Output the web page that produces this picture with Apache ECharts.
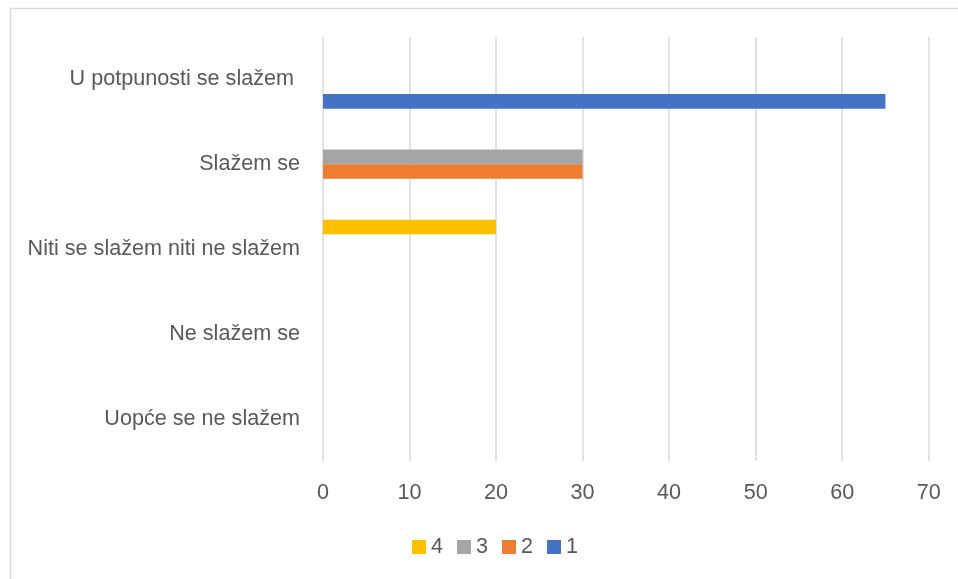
<!DOCTYPE html>
<html>
<head>
<meta charset="utf-8">
<script src="https://cdn.jsdelivr.net/npm/echarts@6/dist/echarts.min.js"></script>
<style>html,body{margin:0;padding:0;background:#fff;}#c{width:958px;height:579px;}</style>
</head>
<body>
<div id="c"></div>
<script>
const categories = ['Uopće se ne slažem', 'Ne slažem se', 'Niti se slažem niti ne slažem', 'Slažem se', 'U potpunosti se slažem '];
const seriesNames = ['4', '3', '2', '1'];
const values4 = [0, 0, 20, 0, 0];
const values3 = [0, 0, 0, 30, 0];
const values2 = [0, 0, 0, 30, 0];
const values1 = [0, 0, 0, 0, 65];
const xTicks = [0, 10, 20, 30, 40, 50, 60, 70];

const colors = {'4': '#FFC000', '3': '#A5A5A5', '2': '#ED7D31', '1': '#4472C4'};
const valuesByName = {'4': values4, '3': values3, '2': values2, '1': values1};
const font = 'Liberation Sans';
const textColor = '#595959';

const chart = echarts.init(document.getElementById('c'), null, {renderer: 'canvas'});
chart.setOption({
  animation: false,
  backgroundColor: '#fff',
  graphic: [{
    type: 'rect', left: 8, top: 6,
    shape: {width: 960, height: 580},
    style: {fill: 'none', stroke: '#d9d9d9', lineWidth: 1.5},
    silent: true
  }],
  legend: {
    left: 407, top: 531,
    itemWidth: 14, itemHeight: 14, itemGap: 14,
    icon: 'rect',
    textStyle: {fontFamily: font, fontSize: 21.6, color: textColor},
    data: seriesNames
  },
  grid: {left: 323, right: 29.3, top: 37, bottom: 118, containLabel: false},
  xAxis: {
    type: 'value', min: xTicks[0], max: xTicks[xTicks.length - 1], interval: 10,
    axisLine: {show: false}, axisTick: {show: false},
    splitLine: {show: true, lineStyle: {color: '#d9d9d9', width: 1.5}},
    axisLabel: {fontFamily: font, fontSize: 21.6, color: textColor, margin: 21}
  },
  yAxis: {
    type: 'category', data: categories,
    axisLine: {show: false}, axisTick: {show: false},
    axisLabel: {fontFamily: font, fontSize: 21.6, color: textColor, margin: 23}
  },
  series: seriesNames.map(n => ({
    name: n, type: 'bar', data: valuesByName[n],
    itemStyle: {color: colors[n]},
    barGap: '0%', barCategoryGap: '31%'
  }))
});
</script>
</body>
</html>
